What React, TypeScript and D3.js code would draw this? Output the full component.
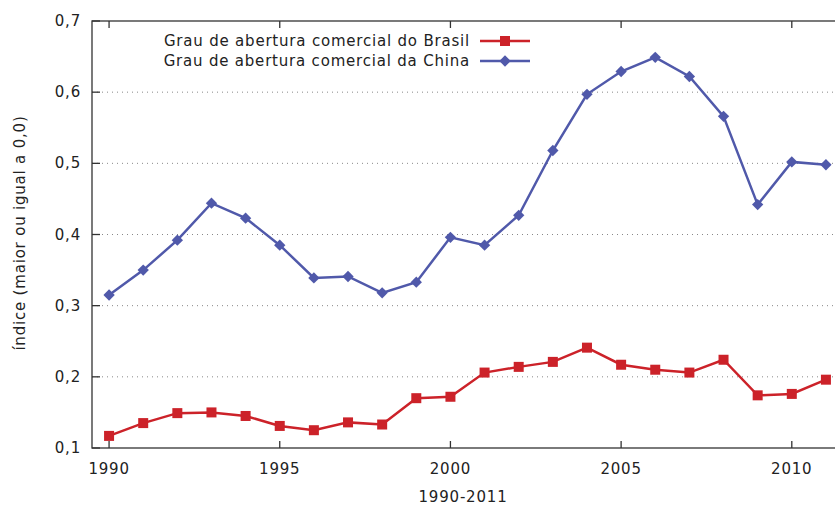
import React, { useEffect, useRef } from 'react';
import * as d3 from 'd3';

const years = [1990, 1991, 1992, 1993, 1994, 1995, 1996, 1997, 1998, 1999, 2000,
  2001, 2002, 2003, 2004, 2005, 2006, 2007, 2008, 2009, 2010, 2011];
const brasil = [0.117, 0.135, 0.149, 0.150, 0.145, 0.131, 0.125, 0.136, 0.133, 0.170, 0.172,
  0.206, 0.214, 0.221, 0.241, 0.217, 0.210, 0.206, 0.224, 0.174, 0.176, 0.196];
const china = [0.315, 0.350, 0.392, 0.444, 0.423, 0.385, 0.339, 0.341, 0.318, 0.333, 0.396,
  0.385, 0.427, 0.518, 0.597, 0.629, 0.649, 0.622, 0.566, 0.442, 0.502, 0.498];
const yTicks = [0.1, 0.2, 0.3, 0.4, 0.5, 0.6, 0.7];
const xTicks = [1990, 1995, 2000, 2005, 2010];
const seriesNames = ['Grau de abertura comercial do Brasil', 'Grau de abertura comercial da China'];

const W = 835, H = 506;

export default function App() {
  const ref = useRef<SVGSVGElement>(null);

  useEffect(() => {
    const svg = d3.select(ref.current);
    svg.selectAll('*').remove();
    const font = "'DejaVu Sans'";
    const fs = 15;
    const x = d3.scaleLinear().domain([1989.5, 2011.5]).range([92, 843]);
    const y = d3.scaleLinear().domain([0.1, 0.7]).range([448, 21]);
    const left = x(1989.5), right = x(2011.5), top = y(0.7), bottom = y(0.1);

    // grid
    svg.append('g').selectAll('line')
      .data(yTicks.filter(t => t > 0.1 && t < 0.7))
      .enter().append('line')
      .attr('x1', left).attr('x2', right)
      .attr('y1', d => y(d)).attr('y2', d => y(d))
      .attr('stroke', '#888').attr('stroke-width', 1)
      .attr('stroke-dasharray', '1,4');

    // frame
    svg.append('rect')
      .attr('x', left).attr('y', top)
      .attr('width', right - left).attr('height', bottom - top)
      .attr('fill', 'none').attr('stroke', '#333').attr('stroke-width', 1.3);

    const txt = (sel: any) => sel.attr('font-family', font).attr('font-size', fs)
      .attr('letter-spacing', 0.8).attr('fill', '#222');

    // y ticks + labels
    const yg = svg.append('g');
    yTicks.forEach(t => {
      yg.append('line').attr('x1', left).attr('x2', left + 8)
        .attr('y1', y(t)).attr('y2', y(t)).attr('stroke', '#333').attr('stroke-width', 1.3);
      yg.append('text').attr('x', left - 11).attr('y', y(t) + 5)
        .attr('text-anchor', 'end').call(txt)
        .text(d3.format('.1f')(t).replace('.', ','));
    });

    // x ticks + labels
    const xg = svg.append('g');
    xTicks.forEach(t => {
      xg.append('line').attr('x1', x(t)).attr('x2', x(t))
        .attr('y1', bottom).attr('y2', bottom - 7).attr('stroke', '#333').attr('stroke-width', 1.3);
      xg.append('line').attr('x1', x(t)).attr('x2', x(t))
        .attr('y1', top).attr('y2', top + 7).attr('stroke', '#333').attr('stroke-width', 1.3);
      xg.append('text').attr('x', x(t)).attr('y', 474)
        .attr('text-anchor', 'middle').call(txt).text(String(t));
    });

    // axis titles
    svg.append('text').attr('x', 463).attr('y', 502)
      .attr('text-anchor', 'middle').call(txt).text('1990-2011');
    svg.append('text')
      .attr('transform', 'translate(25,233) rotate(-90)')
      .attr('text-anchor', 'middle').call(txt).text('índice (maior ou igual a 0,0)');

    const line = d3.line<number>().x((_, i) => x(years[i])).y(d => y(d));
    const red = '#cc2229', blue = '#5059aa';
    const diamond = (s: any) => s.append('rect').attr('x', -4).attr('y', -4)
      .attr('width', 8).attr('height', 8).attr('transform', 'rotate(45)');

    // China
    svg.append('path').datum(china).attr('d', line)
      .attr('fill', 'none').attr('stroke', blue).attr('stroke-width', 2.5);
    svg.append('g').selectAll('g').data(china).enter().append('g')
      .attr('transform', (d, i) => `translate(${x(years[i])},${y(d)})`)
      .attr('fill', blue)
      .call(diamond);

    // Brasil
    svg.append('path').datum(brasil).attr('d', line)
      .attr('fill', 'none').attr('stroke', red).attr('stroke-width', 2.5);
    svg.append('g').selectAll('rect').data(brasil).enter().append('rect')
      .attr('x', (d, i) => x(years[i]) - 5).attr('y', d => y(d) - 5)
      .attr('width', 10).attr('height', 10).attr('fill', red);

    // legend
    const lg = svg.append('g');
    [[red, 'square'], [blue, 'diamond']].forEach(([c, m], i) => {
      const ly = 41 + i * 20;
      lg.append('text').attr('x', 470).attr('y', ly + 5)
        .attr('text-anchor', 'end').call(txt).text(seriesNames[i]);
      lg.append('line').attr('x1', 480).attr('x2', 530).attr('y1', ly).attr('y2', ly)
        .attr('stroke', c).attr('stroke-width', 2.5);
      if (m === 'square') {
        lg.append('rect').attr('x', 500).attr('y', ly - 5).attr('width', 10).attr('height', 10).attr('fill', c);
      } else {
        lg.append('g').attr('transform', `translate(505,${ly})`).attr('fill', c).call(diamond);
      }
    });
  }, []);

  return (
    <div style={{ position: 'absolute', left: 0, top: 0, width: W, height: H, overflow: 'hidden', background: '#fff' }}>
      <svg ref={ref} width={W} height={H} />
    </div>
  );
}
